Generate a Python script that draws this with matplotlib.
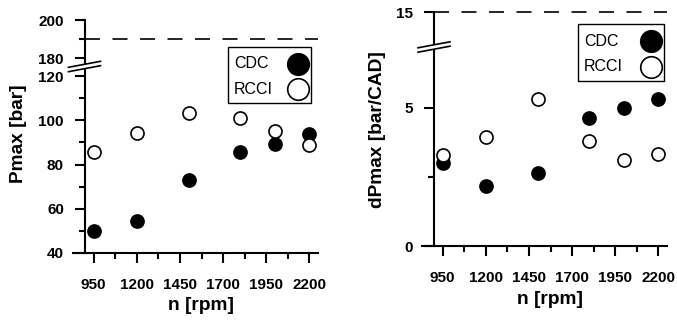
import matplotlib
matplotlib.use("Agg")
import matplotlib.pyplot as plt
from matplotlib.lines import Line2D
from matplotlib.patches import Polygon, Rectangle
from matplotlib.ticker import FixedLocator

plt.rcParams["font.family"] = ["Liberation Sans", "DejaVu Sans"]

# data
rpm = [950, 1200, 1500, 1800, 2000, 2200]
pmax_cdc = [50.0, 54.6, 73.0, 85.8, 89.3, 93.8]
pmax_rcci = [85.8, 94.1, 103.1, 100.8, 95.1, 88.7]
dpmax_cdc = [3.00, 2.17, 2.66, 4.65, 5.01, 5.31]
dpmax_rcci = [3.29, 3.96, 5.34, 3.80, 3.12, 3.32]
pmax_limit = 190
dpmax_limit = 15
series_names = ["CDC", "RCCI"]

xtick_major = [950, 1200, 1450, 1700, 1950, 2200]
xtick_minor = [1075, 1325, 1575, 1825, 2075]

W, H = 677, 322
fig = plt.figure(figsize=(W / 100, H / 100), dpi=100)


def rect(x0, x1, y0, y1):
    # pixel box (top-left origin) -> figure fraction rect
    return [x0 / W, 1 - y1 / H, (x1 - x0) / W, (y1 - y0) / H]


def fpt(x, y):
    return (x / W, 1 - y / H)


XLIM = (830, 2250)
SPINE_X = 900
MS = 9.4
LW = 1.5
TICK_FS = 11
LABEL_FS = 13.8
FACES = ["black", "white"]


def style(ax, bottom):
    for s in ("top", "right"):
        ax.spines[s].set_visible(False)
    ax.spines["left"].set_position(("data", SPINE_X))
    ax.spines["left"].set_linewidth(LW)
    ax.spines["bottom"].set_linewidth(LW)
    ax.set_xlim(*XLIM)
    ax.tick_params(axis="y", which="major", length=7.2, width=LW, pad=8,
                   labelsize=TICK_FS)
    ax.tick_params(axis="y", which="minor", length=4.2, width=LW)
    for lab in ax.get_yticklabels():
        lab.set_fontweight("bold")
    if bottom:
        ax.xaxis.set_major_locator(FixedLocator(xtick_major))
        ax.xaxis.set_minor_locator(FixedLocator(xtick_minor))
        ax.tick_params(axis="x", which="major", length=7, width=LW, pad=11,
                       labelsize=TICK_FS)
        ax.tick_params(axis="x", which="minor", length=4.5, width=LW)
        for lab in ax.get_xticklabels():
            lab.set_fontweight("bold")
    else:
        ax.spines["bottom"].set_visible(False)
        ax.set_xticks([])
    ax.patch.set_alpha(0)


def scatter(ax, x, cdc, rcci):
    for y, fc in zip((cdc, rcci), FACES):
        ax.plot(x, y, "o", ms=MS, mfc=fc, mec="black", mew=1.2,
                clip_on=False, zorder=3)


def brk(x0, y0):
    # "//" break mark centred on the spine
    dx, dy, gap = 16, 3, 2.2
    band = Polygon([fpt(x0 - dx, y0 + dy - gap), fpt(x0 + dx, y0 - dy - gap),
                    fpt(x0 + dx, y0 - dy + gap), fpt(x0 - dx, y0 + dy + gap)],
                   closed=True, transform=fig.transFigure, fc="white",
                   ec="none", zorder=10)
    fig.patches.append(band)
    for s in (-gap, gap):
        (xa, ya), (xb, yb) = fpt(x0 - dx, y0 + dy + s), fpt(x0 + dx, y0 - dy + s)
        fig.lines.append(Line2D([xa, xb], [ya, yb], transform=fig.transFigure,
                                color="black", lw=1.2, zorder=11))


def legend(x0, x1, y0, y1):
    # boxed key: labels left-aligned, big markers on the right
    h = y1 - y0
    fig.patches.append(Rectangle(fpt(x0, y1), (x1 - x0) / W, h / H,
                                 transform=fig.transFigure, fc="white",
                                 ec="black", lw=1.0, zorder=20))
    for name, fc, frac in zip(series_names, FACES, (0.3, 0.75)):
        yy = y0 + frac * h
        fig.text(*fpt(x0 + 6, yy), name, ha="left", va="center",
                 fontsize=11.5, zorder=21)
        fig.lines.append(Line2D([(x1 - 13.5) / W], [1 - yy / H], ls="none",
                                marker="o", ms=15.5, mfc=fc, mec="black",
                                mew=1.2, transform=fig.transFigure, zorder=21))


dash = (0, (9, 7.5))

# ---- left panel: Pmax
axl = fig.add_axes(rect(73, 318, 67, 253))
axl_up = fig.add_axes(rect(73, 318, 20, 67))
axl.set_ylim(40, 124.07)
axl.yaxis.set_major_locator(FixedLocator([40, 60, 80, 100, 120]))
axl.yaxis.set_minor_locator(FixedLocator([50, 70, 90, 110]))
axl_up.set_ylim(175.5, 200)
axl_up.yaxis.set_major_locator(FixedLocator([180, 200]))
axl_up.yaxis.set_minor_locator(FixedLocator([190]))
style(axl, True)
style(axl_up, False)
scatter(axl, rpm, pmax_cdc, pmax_rcci)
axl_up.plot([SPINE_X, XLIM[1]], [pmax_limit, pmax_limit], color="black",
            lw=1.2, ls=dash, clip_on=False)
brk(84.5, 66.5)
legend(228, 311, 47, 103)
fig.text(19 / W, 1 - 134 / H, "Pmax [bar]", rotation=90, ha="center",
         va="center", fontsize=LABEL_FS, fontweight="bold")
fig.text(201 / W, 1 - 305 / H, "n [rpm]", ha="center", va="center",
         fontsize=LABEL_FS, fontweight="bold")

# ---- right panel: dPmax
axr = fig.add_axes(rect(422, 667, 47, 246))
axr_up = fig.add_axes(rect(422, 667, 12.3, 47))
axr.set_ylim(0, 7.21)
axr.yaxis.set_major_locator(FixedLocator([0, 5]))
axr.yaxis.set_minor_locator(FixedLocator([2.5]))
axr_up.set_ylim(13, dpmax_limit)
axr_up.yaxis.set_major_locator(FixedLocator([15]))
axr_up.yaxis.set_minor_locator(FixedLocator([]))
style(axr, True)
style(axr_up, False)
scatter(axr, rpm, dpmax_cdc, dpmax_rcci)
axr_up.plot([SPINE_X, XLIM[1]], [dpmax_limit, dpmax_limit], color="black",
            lw=1.2, ls=dash, clip_on=False)
brk(434, 47)
legend(578, 664, 24, 81)
fig.text(378 / W, 1 - 130 / H, "dPmax [bar/CAD]", rotation=90, ha="center",
         va="center", fontsize=LABEL_FS, fontweight="bold")
fig.text(550 / W, 1 - 299 / H, "n [rpm]", ha="center", va="center",
         fontsize=LABEL_FS, fontweight="bold")

fig.savefig("out.png", dpi=100)
